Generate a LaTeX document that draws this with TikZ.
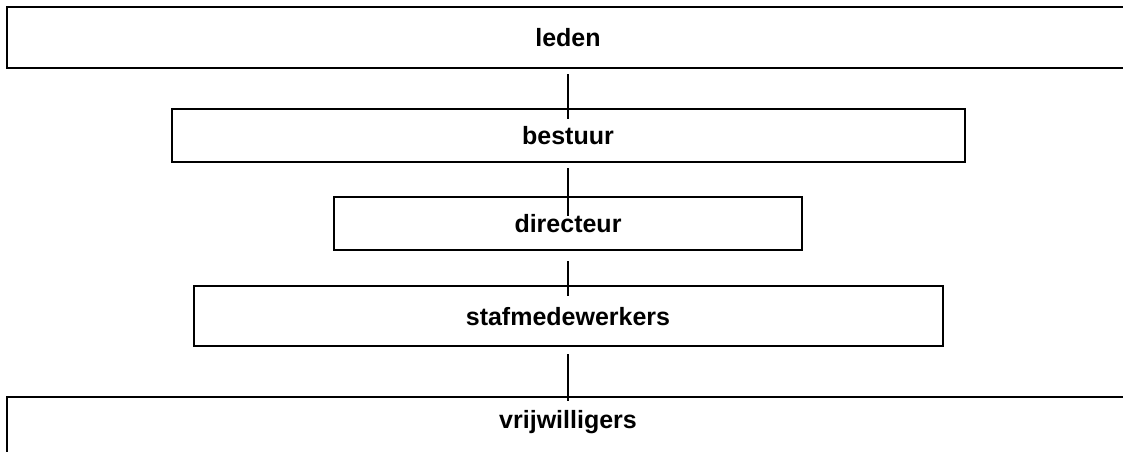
\documentclass[tikz,border=0pt]{standalone}
\usepackage{fontspec}
\setmainfont{Liberation Sans}

\tikzstyle{orgbox} = [rectangle, draw=black, line width=2pt, inner sep=0pt, text height=18pt, text depth=0pt, font=\fontsize{25}{30}\selectfont\bfseries]
\tikzstyle{link} = [line width=1.4pt]

\begin{document}
\begin{tikzpicture}[x=1pt, y=-1pt]
\useasboundingbox (0,0) rectangle (1123,451);

\node (leden) [orgbox, minimum width=1122pt, minimum height=61.5pt] at (568,37.25) {leden};

\node (bestuur) [orgbox, minimum width=793pt, minimum height=53pt] at (568,135.5) {bestuur};

\node (directeur) [orgbox, minimum width=468pt, minimum height=53pt] at (568,223.5) {directeur};

\node (staf) [orgbox, minimum width=749pt, minimum height=60pt] at (568,316) {stafmedewerkers};

\node (vrijwilligers) [orgbox, minimum width=1122pt, text height=31pt, text depth=40pt, anchor=north] at (568,396) {vrijwilligers};

\draw [link] ([yshift=-5pt]leden.south) -- ([yshift=-11pt]bestuur.north);
\draw [link] ([yshift=-5pt]bestuur.south) -- ([yshift=-20pt]directeur.north);
\draw [link] ([yshift=-10pt]directeur.south) -- ([yshift=-11pt]staf.north);
\draw [link] ([yshift=-7pt]staf.south) -- ([yshift=-5pt]vrijwilligers.north);
\end{tikzpicture}
\end{document}
